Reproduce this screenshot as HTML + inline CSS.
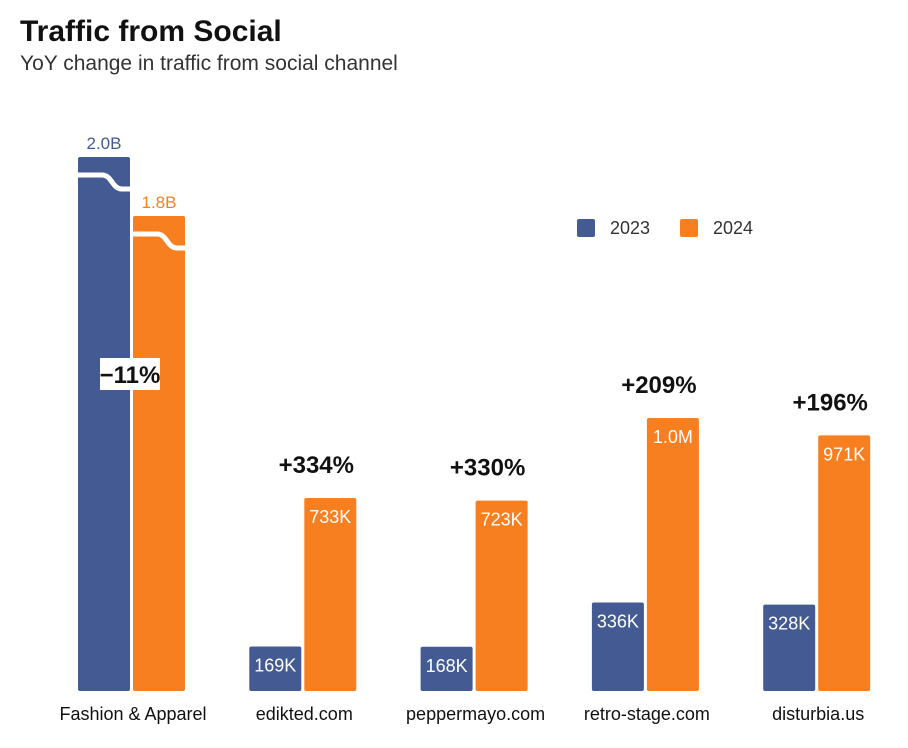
<!DOCTYPE html>
<html><head><meta charset="utf-8">
<style>
body{margin:0;background:#fff;font-family:"Liberation Sans",sans-serif;}
#wrap{position:relative;width:908px;height:748px;overflow:hidden;}
</style></head>
<body>
<div id="wrap">
<svg id="chart" width="908" height="748">
<text x="20" y="41" font-size="30" font-weight="bold" fill="#111">Traffic from Social</text>
<text x="20" y="70" font-size="21" fill="#333">YoY change in traffic from social channel</text>
<g>
<rect x="577" y="219" width="18" height="18" rx="2" fill="#435a92"/>
<text x="610" y="234" font-size="18" fill="#333">2023</text>
<rect x="680" y="219" width="18" height="18" rx="2" fill="#f77f1f"/>
<text x="713" y="234" font-size="18" fill="#333">2024</text>
</g>
<g id="bars"></g>
</svg>
</div>
<script>
const categories=["Fashion & Apparel","edikted.com","peppermayo.com","retro-stage.com","disturbia.us"];
const values2023=[2000000,169,168,336,328];
const values2024=[1800000,733,723,1037,971];
const labels2023=["2.0B","169K","168K","336K","328K"];
const labels2024=["1.8B","733K","723K","1.0M","971K"];
const changeLabels=["−11%","+334%","+330%","+209%","+196%"];
const NS="http://www.w3.org/2000/svg";
const base=691,g=document.getElementById('bars');
function yScale(v){ // broken axis for very large values
  let h;
  if(v>100000){h=475+(v-1800000)/200000*59;}else{h=v*0.2633;}
  return base-h;
}
function xGroup(i){return 78+i*171.3;}
function mk(t,a){const e=document.createElementNS(NS,t);for(const k in a)e.setAttribute(k,a[k]);g.appendChild(e);return e;}
categories.forEach((c,i)=>{
  const x0=xGroup(i),x1=x0+55,w=52;
  const y0=yScale(values2023[i]),y1=yScale(values2024[i]);
  const b0=mk('rect',{x:x0,y:y0,width:w,height:base-y0,rx:2,fill:'#435a92'});
  
  
  const b1=mk('rect',{x:x1,y:y1,width:w,height:base-y1,rx:2,fill:'#f77f1f'});
  
  
  const big=values2023[i]>100000;
  if(big){
    [[x0,y0],[x1,y1]].forEach(([bx,by],k)=>{
      const p=mk('path',{d:`M${bx-2} ${by+18} L${bx+24} ${by+18} C${bx+34} ${by+18} ${bx+34} ${by+32} ${bx+44} ${by+32} L${bx+w+2} ${by+32}`,stroke:'#fff','stroke-width':5,fill:'none'});
      
      
    });
    const l0=mk('text',{x:x0+w/2,y:y0-8,'text-anchor':'middle','font-size':17,fill:'#435a92'});l0.textContent=labels2023[i];
    
    
    const l1=mk('text',{x:x1+w/2,y:y1-8,'text-anchor':'middle','font-size':17,fill:'#f77f1f'});l1.textContent=labels2024[i];
    
    
    const bg=mk('rect',{x:x0+22,y:358,width:60,height:32,fill:'#fff'});
    
    
    const cl=mk('text',{x:x0+52,y:383,'text-anchor':'middle','font-size':24,'font-weight':'bold',fill:'#111'});cl.textContent=changeLabels[i];
    
    
  }else{
    const l0=mk('text',{x:x0+w/2,y:y0+25,'text-anchor':'middle','font-size':18,fill:'#fff'});l0.textContent=labels2023[i];
    
    
    const l1=mk('text',{x:x1+w/2,y:y1+25,'text-anchor':'middle','font-size':18,fill:'#fff'});l1.textContent=labels2024[i];
    
    
    const cl=mk('text',{x:x0+67,y:y1-25,'text-anchor':'middle','font-size':24,'font-weight':'bold',fill:'#111'});cl.textContent=changeLabels[i];
    
    
  }
  const cat=mk('text',{x:x0+55,y:720,'text-anchor':'middle','font-size':18,fill:'#111'});cat.textContent=c;
  
  
});
</script>
</body></html>
